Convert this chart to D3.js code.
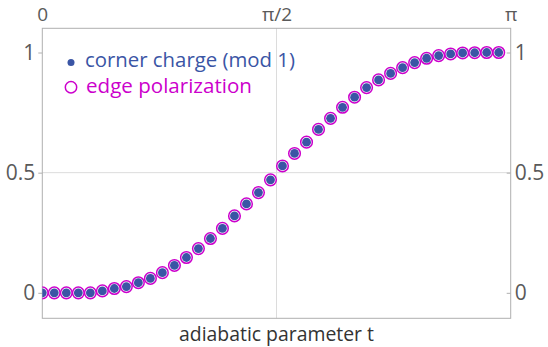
<!DOCTYPE html>
<html><head><meta charset="utf-8">
<script src="https://cdn.jsdelivr.net/npm/d3@7"></script>
<style>
html,body{margin:0;padding:0;background:#fff;}
svg{display:block;font-family:"Open Sans","Noto Sans",sans-serif;}
</style></head>
<body>
<svg id="chart" width="548" height="347"></svg>
<script>
// parameter t in units of pi
const tOverPi = [0, 0.0256, 0.0513, 0.0769, 0.1026, 0.1282, 0.1538, 0.1795, 0.2051, 0.2308,
  0.2564, 0.2821, 0.3077, 0.3333, 0.3590, 0.3846, 0.4103, 0.4359, 0.4615, 0.4872,
  0.5128, 0.5385, 0.5641, 0.5897, 0.6154, 0.6410, 0.6667, 0.6923, 0.7179, 0.7436,
  0.7692, 0.7949, 0.8205, 0.8462, 0.8718, 0.8974, 0.9231, 0.9487, 0.9744];
const cornerCharge = [0, 0, 0, 0, 0, 0.008, 0.018, 0.026, 0.042, 0.060,
  0.084, 0.114, 0.147, 0.184, 0.226, 0.268, 0.320, 0.370, 0.417, 0.470,
  0.528, 0.580, 0.627, 0.680, 0.726, 0.772, 0.814, 0.854, 0.886, 0.913,
  0.937, 0.958, 0.976, 0.987, 0.994, 0.998, 0.999, 1.0, 1.0];
const edgePolarization = [0, 0, 0, 0, 0, 0.008, 0.018, 0.026, 0.042, 0.060,
  0.084, 0.114, 0.147, 0.184, 0.226, 0.268, 0.320, 0.370, 0.417, 0.470,
  0.528, 0.580, 0.627, 0.680, 0.726, 0.772, 0.814, 0.854, 0.886, 0.913,
  0.937, 0.958, 0.976, 0.987, 0.994, 0.998, 0.999, 1.0, 1.0];
const xTickValues = [0, Math.PI / 2, Math.PI];
const xTickLabels = ["0", "π/2", "π"];
const yTickValues = [0, 0.5, 1];
const yTickLabels = ["0", "0.5", "1"];
const legendLabels = ["corner charge (mod 1)", "edge polarization"];
const xTitle = "adiabatic parameter t";

const blue = "#3a55a5", magenta = "#cc00cc", frameCol = "#b0b0b0", gridCol = "#dcdcdc", tickText = "#5a5a5a";
const svg = d3.select("#chart");
const L = 42.3, R = 510.7, T = 28.3, B = 318.3;
const x = d3.scaleLinear().domain([0, Math.PI]).range([L, R]);
const y = d3.scaleLinear().domain([-0.106, 1.1007]).range([B, T]);

// grid
svg.append("line").attr("x1", x(Math.PI/2)).attr("x2", x(Math.PI/2)).attr("y1", T).attr("y2", B)
  .attr("stroke", gridCol).attr("stroke-width", 1);
svg.append("line").attr("x1", L).attr("x2", R).attr("y1", y(0.5)).attr("y2", y(0.5))
  .attr("stroke", gridCol).attr("stroke-width", 1);

// axes
function styleAxis(size){
  return function(g){
    g.select(".domain").remove();
    g.selectAll(".tick line").attr("stroke", frameCol);
    g.selectAll(".tick text").attr("fill", tickText).style("font-size", size + "px")
     .style("font-family", '"Open Sans","Noto Sans",sans-serif');
  };
}
const fmtY = (d) => yTickLabels[yTickValues.indexOf(d)];
const fmtX = (d) => xTickLabels[xTickValues.indexOf(d)];
svg.append("g").attr("transform", `translate(${L},0)`)
  .call(d3.axisLeft(y).tickValues(yTickValues).tickFormat(fmtY).tickSize(4).tickPadding(3)).call(styleAxis(21));
svg.append("g").attr("transform", `translate(${R},0)`)
  .call(d3.axisRight(y).tickValues(yTickValues).tickFormat(fmtY).tickSize(-4).tickPadding(4)).call(styleAxis(21));
svg.append("g").attr("transform", `translate(0,${T})`)
  .call(d3.axisTop(x).tickValues(xTickValues).tickFormat(fmtX).tickSize(0).tickPadding(7.3)).call(styleAxis(19));

// frame
svg.append("rect").attr("x", L).attr("y", T).attr("width", R - L).attr("height", B - T)
  .attr("fill", "none").attr("stroke", frameCol).attr("stroke-width", 1);

// clip
svg.append("clipPath").attr("id", "clip").append("rect")
  .attr("x", L).attr("y", T).attr("width", R - L).attr("height", B - T);
const plot = svg.append("g").attr("clip-path", "url(#clip)");

const ptsE = tOverPi.map((t, i) => ({t: t * Math.PI, v: edgePolarization[i]}));
const ptsC = tOverPi.map((t, i) => ({t: t * Math.PI, v: cornerCharge[i]}));
plot.selectAll("circle.edge").data(ptsE).join("circle").attr("class", "edge")
  .attr("cx", d => x(d.t)).attr("cy", d => y(d.v)).attr("r", 5.8)
  .attr("fill", "none").attr("stroke", magenta).attr("stroke-width", 1.5);
plot.selectAll("circle.corner").data(ptsC).join("circle").attr("class", "corner")
  .attr("cx", d => x(d.t)).attr("cy", d => y(d.v)).attr("r", 4.4)
  .attr("fill", blue);

// legend
function fit(sel, target){
  const w = sel.node().getComputedTextLength();
  const fs = parseFloat(sel.style("font-size"));
  sel.style("font-size", (fs * target / w).toFixed(2) + "px");
}
svg.append("circle").attr("cx", 71).attr("cy", 62.5).attr("r", 3.5).attr("fill", blue);
const t1 = svg.append("text").attr("x", 85).attr("y", 67).attr("fill", blue)
  .style("font-size", "20px").text(legendLabels[0]);
fit(t1, 210);
svg.append("circle").attr("cx", 71).attr("cy", 87.3).attr("r", 5.7).attr("fill", "none")
  .attr("stroke", magenta).attr("stroke-width", 1.5);
const t2 = svg.append("text").attr("x", 86).attr("y", 93).attr("fill", magenta)
  .style("font-size", "20px").text(legendLabels[1]);
fit(t2, 166);

// x title
const xt = svg.append("text").attr("x", x(Math.PI/2)).attr("y", 341).attr("text-anchor", "middle")
  .attr("fill", "#333").style("font-size", "19px").text(xTitle);
fit(xt, 195);
</script>
</body></html>
